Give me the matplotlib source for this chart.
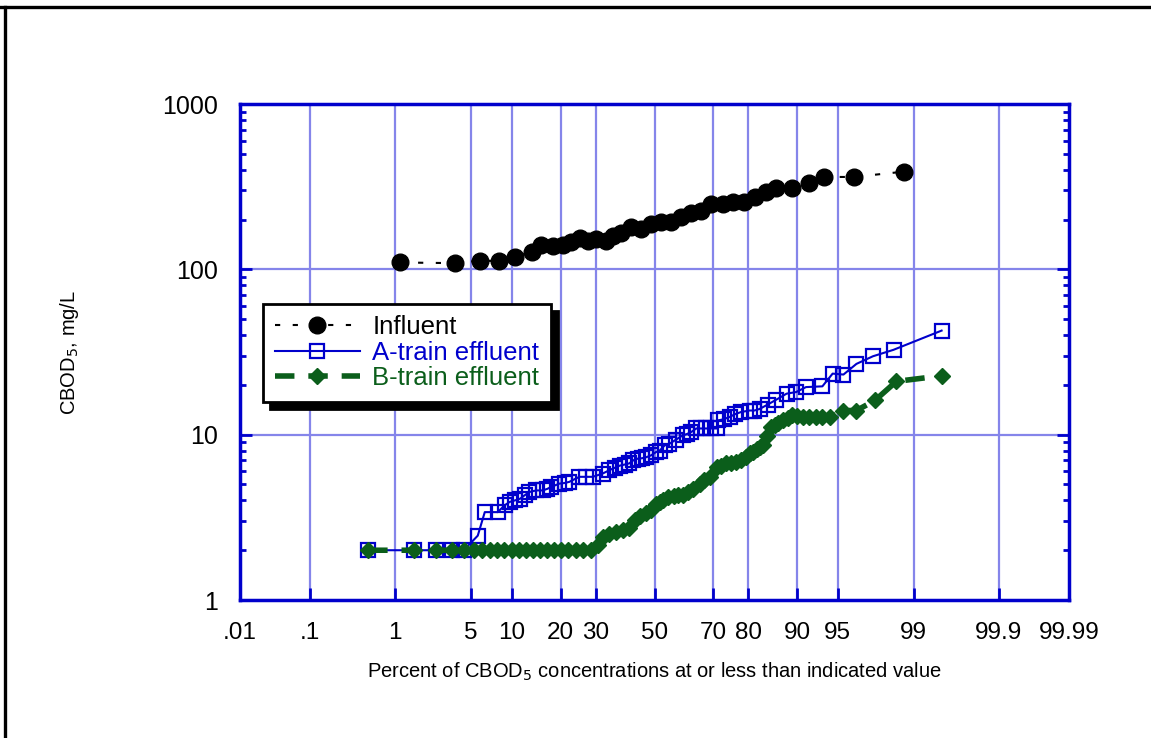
import numpy as np
import matplotlib
matplotlib.use("Agg")
import matplotlib.pyplot as plt
from matplotlib.lines import Line2D
from matplotlib.ticker import FixedLocator, NullLocator, FixedFormatter, LogLocator
from statistics import NormalDist

plt.rcParams['font.family'] = ['Liberation Sans', 'DejaVu Sans']

# percent (at or less than) and CBOD5 values
inf_pct = [1.13, 3.66, 5.9, 8.15, 10.5, 13.5, 15.5, 18.1, 20.6, 22.8, 25.1, 27.5,
           30.1, 33.3, 35.5, 38.3, 41.7, 45.3, 48.8, 52.4, 56.0, 59.4, 62.9, 66.2,
           69.4, 73.0, 75.9, 79.0, 81.7, 84.1, 86.3, 89.2, 91.7, 93.6, 96.3, 98.75]
inf_val = [110, 109, 113, 112, 119, 128, 141, 139, 141, 147, 154, 149,
           152, 149, 160, 167, 181, 175, 189, 192, 192, 206, 220, 226,
           248, 248, 254, 254, 272, 295, 312, 310, 335, 362, 362, 390]

a_pct = [0.51, 1.54, 2.49, 3.45, 4.35, 5.64, 6.39, 7.97, 8.95, 9.7, 10.5, 11.4,
         12.2, 13.1, 14.4, 15.8, 16.8, 17.7, 19.7, 21.0, 22.2, 25.0, 27.0, 29.0,
         32.1, 34.3, 36.0, 37.8, 39.5, 41.0, 42.5, 44.0, 45.5, 47.0, 48.8, 50.6,
         51.8, 53.6, 55.3, 57.5, 60.0, 61.5, 63.0, 64.6, 66.2, 67.9, 69.5, 71.2,
         71.6, 73.3, 75.0, 76.5, 78.1, 80.3, 81.5, 82.7, 84.5, 86.3, 88.2, 89.8,
         91.3, 93.4, 94.5, 95.5, 96.5, 97.5, 98.4, 99.5]
a_val = [2.0, 2.0, 2.0, 2.0, 2.0, 2.45, 3.4, 3.4, 3.74, 3.92, 4.0, 4.1,
         4.3, 4.5, 4.6, 4.6, 4.7, 4.83, 5.06, 5.1, 5.18, 5.56, 5.56, 5.56,
         5.82, 6.1, 6.3, 6.5, 6.6, 6.7, 7.0, 7.16, 7.2, 7.3, 7.5, 7.86,
         8.0, 8.6, 8.8, 9.3, 9.9, 10.1, 10.4, 10.9, 10.9, 10.9, 10.9, 10.9,
         12.2, 12.4, 12.8, 13.3, 13.7, 14.0, 14.0, 14.3, 15.2, 16.3, 17.7, 18.1,
         19.4, 19.6, 23.4, 23.1, 26.8, 29.8, 32.6, 42.6]

b_pct = [0.51, 1.54, 2.49, 3.45, 4.35, 5.3, 6.1, 7.0, 7.9, 8.9, 10.0, 11.2,
         12.4, 13.8, 15.2, 16.8, 18.4, 20.2, 22.0, 24.0, 26.0, 28.5, 30.5, 32.1,
         34.3, 36.6, 38.8, 41.0, 42.9, 45.0, 47.0, 48.8, 50.6, 51.8, 53.2, 54.7,
         57.0, 58.5, 60.0, 61.8, 63.5, 65.7, 67.3, 69.0, 71.2, 72.6, 74.0, 75.4,
         76.8, 78.2, 79.5, 80.3, 81.2, 82.0, 82.7, 83.4, 84.4, 85.3, 86.0, 86.7,
         87.5, 88.4, 89.2, 90.0, 90.8, 91.7, 92.6, 93.4, 94.2, 95.5, 96.5, 97.6,
         98.5, 99.5]
b_val = [2.0, 2.0, 2.0, 2.0, 2.0, 2.0, 2.0, 2.0, 2.0, 2.0, 2.0, 2.0,
         2.0, 2.0, 2.0, 2.0, 2.0, 2.0, 2.0, 2.0, 2.0, 2.0, 2.15, 2.41,
         2.5, 2.58, 2.65, 2.71, 3.04, 3.2, 3.34, 3.5, 3.8, 3.92, 4.05, 4.2,
         4.25, 4.3, 4.3, 4.5, 4.7, 5.06, 5.3, 5.56, 6.36, 6.5, 6.7, 6.75,
         6.8, 7.0, 7.3, 7.7, 7.9, 8.2, 8.4, 8.6, 9.8, 11.1, 11.4, 11.7,
         12.2, 12.6, 13.1, 13.0, 12.8, 12.8, 12.8, 12.8, 12.8, 14.0, 14.0, 16.1,
         21.0, 22.7]

x_ticks = [0.01, 0.1, 1, 5, 10, 20, 30, 50, 70, 80, 90, 95, 99, 99.9, 99.99]
x_labels = ['.01', '.1', '1', '5', '10', '20', '30', '50', '70', '80', '90', '95',
            '99', '99.9', '99.99']
y_ticks = [1, 10, 100, 1000]

blue = '#0000cc'
green = '#0b5e1b'
grid_c = '#8585ea'

nd = NormalDist()


def to_z(p):
    p = np.clip(np.asarray(p, dtype=float) / 100.0, 1e-9, 1 - 1e-9)
    return np.vectorize(nd.inv_cdf, otypes=[float])(p)


def to_p(z):
    return np.vectorize(nd.cdf, otypes=[float])(np.asarray(z, dtype=float)) * 100.0


fig = plt.figure(figsize=(11.51, 7.38), dpi=100)
ax = fig.add_axes([240 / 1151, 138 / 738, 829 / 1151, 496 / 738])
ax.set_xscale('function', functions=(to_z, to_p))
ax.set_yscale('log')
ax.set_xlim(0.01, 99.99)
ax.set_ylim(1, 1000)

# grid
for t in x_ticks[1:-1]:
    ax.axvline(t, color=grid_c, lw=1.6, zorder=0)
for t in [10, 100]:
    ax.axhline(t, color=grid_c, lw=1.6, zorder=0)

ax.plot(inf_pct, inf_val, color='black', lw=1.5, ls=(0, (2.5, 6)),
        marker='o', ms=12, mfc='black', mec='black', label='Influent', zorder=3)
ax.plot(a_pct, a_val, color=blue, lw=1.5, ls='-',
        marker='s', ms=10, mfc='none', mec=blue, mew=1.6, label='A-train effluent', zorder=4)
ax.plot(b_pct, b_val, color=green, lw=4, ls=(0, (3.5, 2.5)),
        marker='D', ms=8.5, mfc=green, mec=green, label='B-train effluent', zorder=5)

ax.xaxis.set_major_locator(FixedLocator(x_ticks))
ax.xaxis.set_major_formatter(FixedFormatter(x_labels))
ax.xaxis.set_minor_locator(NullLocator())
ax.yaxis.set_major_locator(FixedLocator(y_ticks))
ax.yaxis.set_major_formatter(FixedFormatter(['1', '10', '100', '1000']))
ax.yaxis.set_minor_locator(LogLocator(base=10, subs=np.arange(2, 10)))

ax.tick_params(axis='x', which='major', direction='in', length=8.5, width=2,
               color=blue, labelsize=17.5, pad=16)
ax.tick_params(axis='y', which='major', direction='in', length=8.5, width=2,
               color=blue, labelsize=18, pad=16, right=True)
ax.tick_params(axis='y', which='minor', direction='in', length=4, width=2,
               color=blue, right=True)
for s in ax.spines.values():
    s.set_color(blue)
    s.set_linewidth(2.5)

ax.set_xlabel('Percent of CBOD$_5$ concentrations at or less than indicated value',
              fontsize=14.5, labelpad=12)
ax.set_ylabel('CBOD$_5$, mg/L', fontsize=14.5, labelpad=58)

leg = ax.legend(loc='upper left', bbox_to_anchor=(0.028, 0.597), borderaxespad=0,
                fontsize=18.5, handlelength=3.3, handletextpad=0.5, labelspacing=0.05,
                borderpad=0.45, fancybox=False, framealpha=1, labelcolor='linecolor',
                shadow={'ox': 5, 'oy': -5, 'facecolor': 'black', 'edgecolor': 'black',
                        'alpha': 1})
leg.get_frame().set_edgecolor('black')
leg.get_frame().set_linewidth(2)

# outer frame lines (top and left)
fig.add_artist(Line2D([0, 1], [0.9905, 0.9905], color='black', lw=2.4,
                      transform=fig.transFigure))
fig.add_artist(Line2D([0.0045, 0.0045], [0, 0.9905], color='black', lw=2.4,
                      transform=fig.transFigure))

fig.savefig('out.png', dpi=100)
